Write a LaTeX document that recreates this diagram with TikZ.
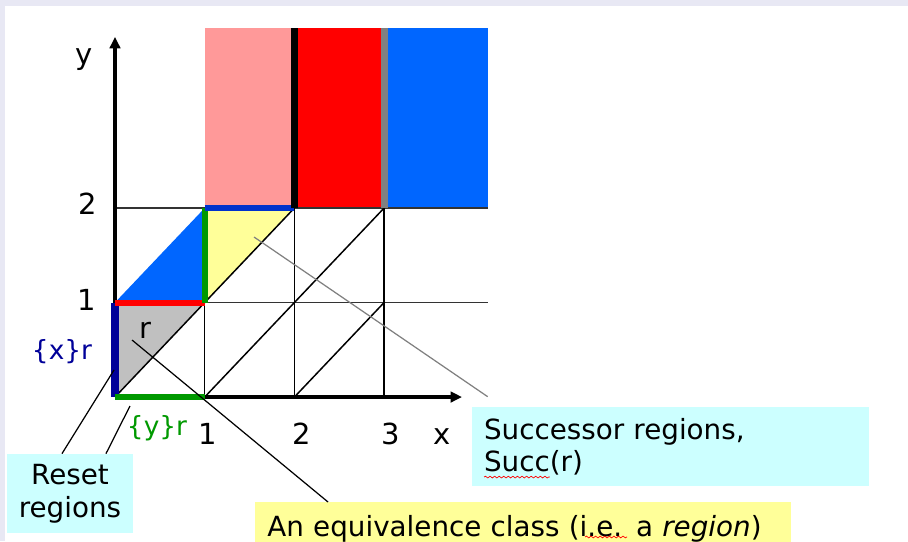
\documentclass[tikz,border=0pt]{standalone}
\usepackage{fontspec}
\setmainfont{DejaVu Sans}
\usetikzlibrary{arrows.meta,calc,positioning,decorations.pathmorphing}
\definecolor{pinkreg}{HTML}{FF9999}
\definecolor{bluereg}{HTML}{0066FF}
\definecolor{yellreg}{HTML}{FFFF99}
\definecolor{grayreg}{HTML}{C0C0C0}
\definecolor{navyedge}{HTML}{000099}
\definecolor{greenedge}{HTML}{009900}
\definecolor{blueedge}{HTML}{0033CC}
\definecolor{callcyan}{HTML}{CCFFFF}
\definecolor{slideframe}{HTML}{E8E8F4}
\tikzset{
  gridln/.style={line width=0.85pt},
  axis/.style={-{Triangle[length=6.5pt,width=6pt]},line width=1.8pt},
  bound/.style={line width=3.4pt},
  pointer/.style={line width=0.7pt},
  spell/.style={red,line width=0.4pt,decorate,decoration={snake,amplitude=0.5pt,segment length=2.6pt}},
  callout/.style={inner xsep=0.24cm,font=\fontsize{15.8}{18.5}\selectfont},
  ticklbl/.style={font=\fontsize{16.5}{18}\selectfont},
  every node/.style={font=\fontsize{15}{18}\selectfont}
}
\begin{document}
\begin{tikzpicture}[x=1.794cm,y=1.89cm]
\useasboundingbox (-1.282,-1.524) rectangle (8.840,4.201);
\fill[slideframe] (-1.282,-1.524) rectangle (8.840,4.201);
\fill[white] (-1.226,-1.524) rectangle (8.840,4.138);
% regions
\fill[pinkreg] (1,2) rectangle (2,3.905);
\fill[red] (2,2) rectangle (3,3.905);
\fill[bluereg] (3,2) rectangle (4.158,3.905);
\fill[grayreg] (0,0) -- (0,1) -- (1,1) -- cycle;
\fill[bluereg] (0,1) -- (1,1) -- (1,2) -- cycle;
\fill[yellreg] (1,1) -- (1,2) -- (2,2) -- cycle;
% grid
\draw[gridln,black!80] (0,1) -- (4.158,1) (0,2) -- (4.158,2);
\foreach \i in {1,2,3}
  \draw[gridln] (\i,0) -- (\i,2);
\draw[gridln] (0,0) -- (2,2) (1,0) -- (3,2) (2,0) -- (3,1);
% axes
\coordinate (O) at (0,0);
\coordinate (xend) at (3.868,0);
\coordinate (yend) at (0,3.810);
\draw[axis] (O) -- (xend);
\draw[axis] (O) -- (yend);
% boundaries
\draw[bound,navyedge,line width=4pt] (0,0) -- (0,1);
\draw[bound,greenedge] (0,0) -- (1,0);
\draw[bound,red] (0,1) -- (1,1);
\draw[bound,greenedge] (1,1) -- (1,2);
\draw[bound,blueedge] (1,2) -- (2,2);
\draw[bound,black,line width=4pt] (2,2) -- (2,3.905);
\draw[bound,gray,line width=4pt] (3,2) -- (3,3.905);
% labels
\node[ticklbl] (ylbl) at (-0.346,3.566) {y};
\node[ticklbl] (y2) at (-0.30,2.05) {2};
\node[ticklbl] (y1) at (-0.31,1.03) {1};
\foreach \i/\p in {1/1.03,2/2.085,3/3.077}
  \node[ticklbl] (x\i) at (\p,-0.39) {\i};
\node[ticklbl] (xlbl) at (3.645,-0.42) {x};
\node[text=navyedge] (xr) at (-0.591,0.476) {\{x\}r};
\node[ticklbl] (rlbl) at (0.334,0.709) {r};
\node[text=greenedge] (yr) at (0.468,-0.328) {\{y\}r};
% callouts
\node[callout,fill=callcyan,minimum width=2.52cm,minimum height=1.58cm,align=center] (reset) at (-0.502,-1.021) {Reset\\regions};
\node[callout,fill=callcyan,minimum width=7.94cm,minimum height=1.58cm,text width=7.46cm,align=left] (succ) at (6.193,-0.524) {Successor regions,\\Succ(r)};
\node[callout,fill=yellreg,anchor=north west,inner ysep=0.26cm,text width=10.24cm,align=left] (equiv) at (1.561,-1.111) {An equivalence class (i.e. a \textit{region})};
\draw[spell] (4.114,-0.847) -- (4.849,-0.847);
\draw[spell] (5.240,-1.481) -- (5.708,-1.481);
% pointers
\coordinate (xrtip) at (-0.011,0.286);
\coordinate (yrtip) at (0.167,-0.095);
\coordinate (rtip) at (0.190,0.603);
\coordinate (succtip) at (1.550,1.693);
\draw[pointer] ([xshift=-0.16cm]reset.north) -- (xrtip);
\draw[pointer] ([xshift=0.72cm]reset.north) -- (yrtip);
\draw[pointer] ([xshift=1.46cm]equiv.north west) -- (rtip);
\draw[pointer,gray] ([shift={(0.32cm,0.2cm)}]succ.north west) -- (succtip);
\end{tikzpicture}
\end{document}
